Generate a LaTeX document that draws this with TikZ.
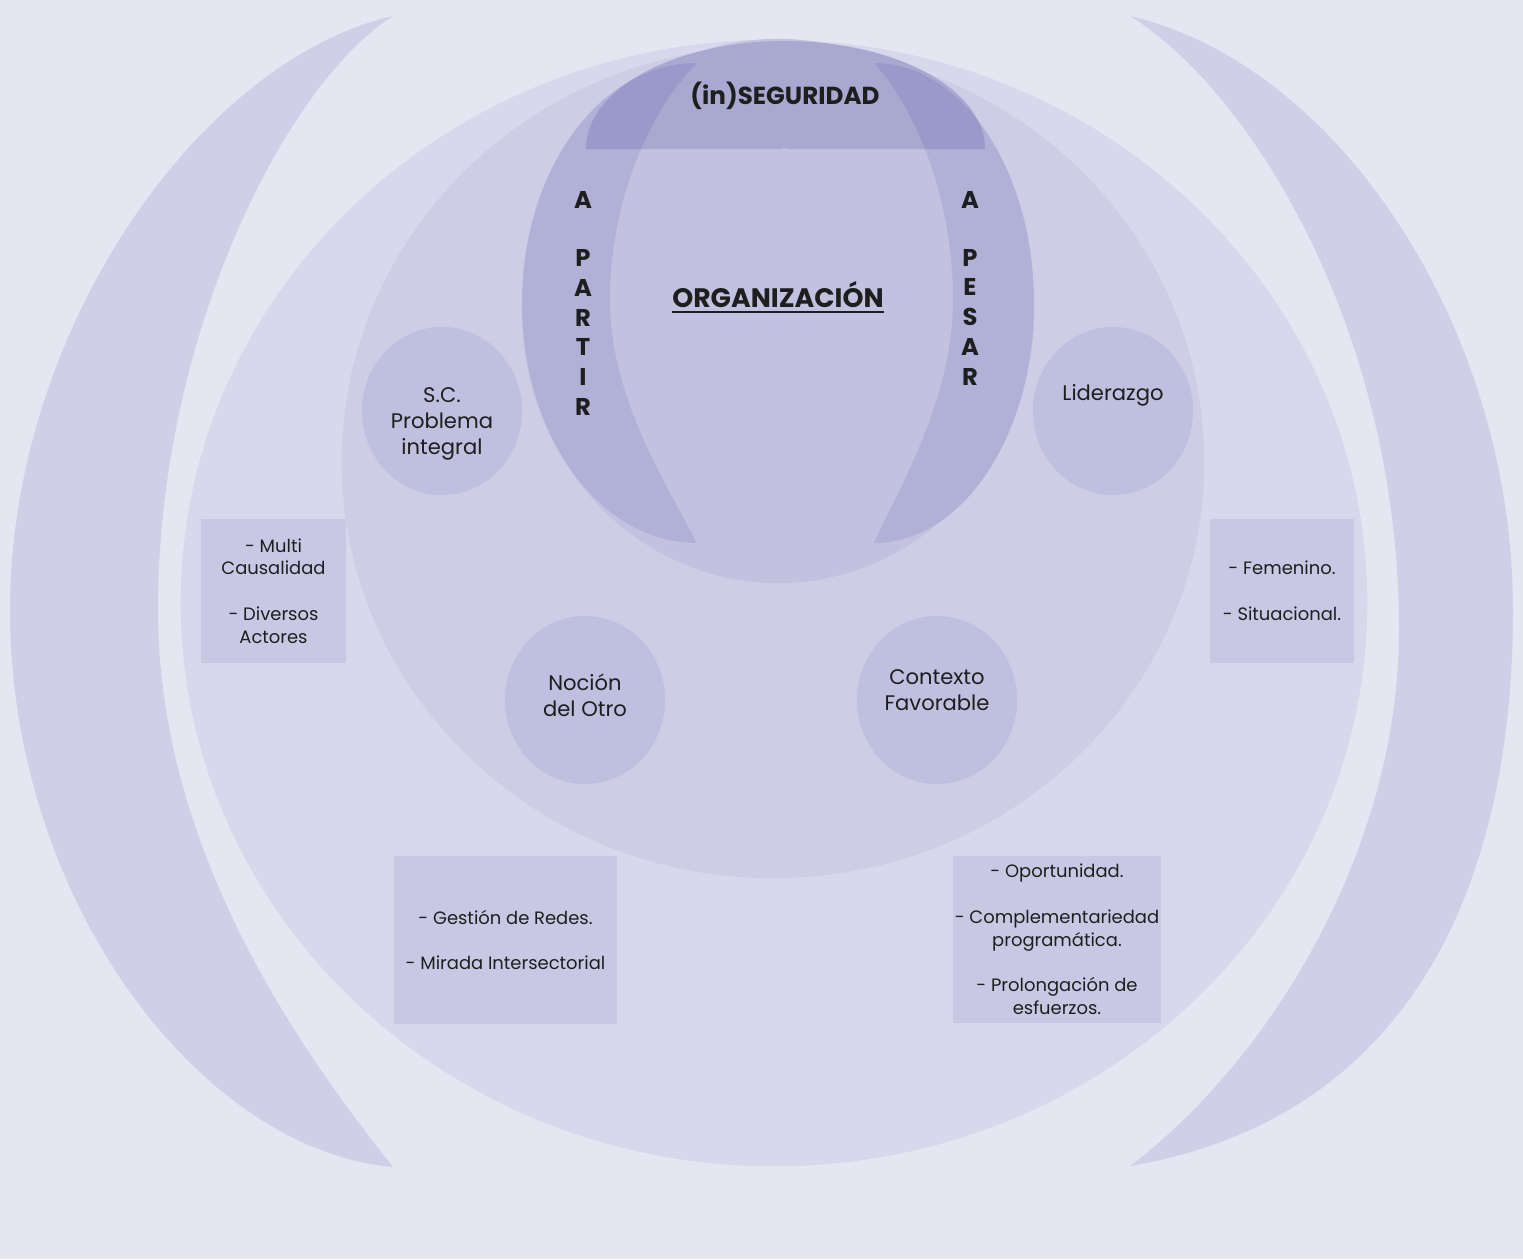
\documentclass[tikz,border=0pt]{standalone}
\usepackage{fontspec}
\setmainfont{Poppins}
\usetikzlibrary{shapes.geometric}
\definecolor{bgc}{HTML}{E6E6F2}
\definecolor{parenc}{HTML}{CFCFE7}
\definecolor{outerc}{HTML}{D8D8EC}
\definecolor{midc}{HTML}{CDCDE6}
\definecolor{innerc}{HTML}{C2C2E0}
\definecolor{moonc}{HTML}{B1B1D8}
\definecolor{segc}{HTML}{A8A8D1}
\definecolor{segdark}{HTML}{9A9ACA}
\definecolor{smallc}{HTML}{BFBFDF}
\definecolor{boxc}{HTML}{C8C8E4}
\definecolor{ink}{HTML}{1E1E1E}
\tikzset{
    circ/.style={ellipse, fill=smallc, minimum width=1.6cm, minimum height=1.68cm, inner sep=0mm},
    circtext/.style={align=center, text=ink, inner sep=0mm, font=\fontsize{6}{7.3}\selectfont},
    box/.style={rectangle, fill=boxc, inner sep=0mm, align=center, text=ink, font=\fontsize{5.1}{6.5}\selectfont},
    vletter/.style={text=ink, inner sep=0mm, font=\bfseries\fontsize{6.9}{8}\selectfont},
    title/.style={text=ink, inner sep=0mm, font=\bfseries\fontsize{7}{9}\selectfont}
}
\def\leftmoon{(697,63) .. controls (600,63) and (522,170) .. (522,303) .. controls (522,436) and (600,543) .. (697,543)
  .. controls (670,490) and (610,400) .. (610,300) .. controls (610,200) and (650,110) .. (697,63) -- cycle}
\def\rightmoon{(874,63) .. controls (962,63) and (1034,170) .. (1034,303) .. controls (1034,436) and (962,543) .. (874,543)
  .. controls (898,490) and (953,400) .. (953,300) .. controls (953,200) and (917,110) .. (874,63) -- cycle}
\def\segshape{(586,149) .. controls (586,89) and (675,41) .. (785,41) .. controls (895,41) and (985,89) .. (985,149) -- cycle}

\begin{document}
\begin{tikzpicture}[x=0.01cm, y=-0.01cm]
  \useasboundingbox (0,0) rectangle (1523,1259);
  \fill[bgc] (0,0) rectangle (1523,1259);

  % parentesis
  \fill[parenc] (393,16) .. controls (200,60) and (10,330) .. (10,610) .. controls (10,900) and (200,1150) .. (393,1167)
    .. controls (300,1050) and (158,850) .. (158,610) .. controls (158,330) and (290,80) .. (393,16) -- cycle;
  \fill[parenc] (1130,16) .. controls (1340,65) and (1513,330) .. (1513,610) .. controls (1513,900) and (1400,1120) .. (1130,1166)
    .. controls (1270,1060) and (1399,850) .. (1399,630) .. controls (1399,330) and (1250,90) .. (1130,16) -- cycle;

  % circles
  \fill[outerc] (774,603) ellipse [x radius=5.93cm, y radius=5.63cm];
  \fill[midc] (773,462) ellipse [x radius=4.31cm, y radius=4.16cm];
  \fill[innerc] (778,311) ellipse [x radius=2.56cm, y radius=2.72cm];

  \fill[moonc] \leftmoon;
  \fill[moonc] \rightmoon;

  \fill[segc] \segshape;
  \begin{scope}
    \clip \segshape;
    \fill[segdark] \leftmoon;
    \fill[segdark] \rightmoon;
  \end{scope}
  \fill[innerc] (785,155) circle [radius=0.07cm];

  \node (seg) [title, anchor=base] at (785,104) {(in)SEGURIDAD};
  \node (org) [title, font=\bfseries\fontsize{7.6}{9}\selectfont, anchor=base] at (778,307) {\underline{ORGANIZACIÓN}};

  \foreach \c/\y [count=\i] in {A/200, P/258, A/288, R/318, T/347, I/377, R/407}
    \node (partir\i) [vletter] at (583,\y) {\c};
  \foreach \c/\y [count=\i] in {A/200, P/258, E/287, S/317, A/347, R/377}
    \node (pesar\i) [vletter] at (970,\y) {\c};

  \node (sc) [circ] at (442,411) {};
  \node (lid) [circ] at (1113,411) {};
  \node (otro) [circ] at (585,700) {};
  \node (ctx) [circ] at (937,700) {};

  \node (sctxt) [circtext] at (442,424) {S.C.\\Problema\\integral};
  \node (lidtxt) [circtext] at (1113,395) {Liderazgo};
  \node (otrotxt) [circtext] at (585,695) {Noción\\del Otro};
  \node (ctxtxt) [circtext] at (937,690) {Contexto\\Favorable};

  \node (causas) [box, minimum width=1.45cm, minimum height=1.44cm] at (273.5,591)
    {- Multi\\Causalidad\\[6.5pt]- Diversos\\Actores};
  \node (lider) [box, minimum width=1.44cm, minimum height=1.44cm] at (1282,591)
    {- Femenino.\\[6.5pt]- Situacional.};
  \node (redes) [box, minimum width=2.23cm, minimum height=1.68cm] at (505.5,940)
    {- Gestión de Redes.\\[6.5pt]- Mirada Intersectorial};
  \node (oport) [box, minimum width=2.08cm, minimum height=1.67cm] at (1057,939.5)
    {- Oportunidad.\\[6.5pt]- Complementariedad\\programática.\\[6.5pt]- Prolongación de\\esfuerzos.};
\end{tikzpicture}
\end{document}
